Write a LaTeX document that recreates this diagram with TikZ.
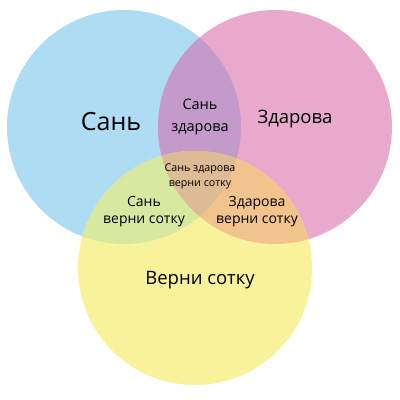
\documentclass[tikz,border=0pt]{standalone}
\usepackage{fontspec}
\setmainfont{Open Sans}
\definecolor{sanblue}{HTML}{AEDCF2}
\definecolor{zdpink}{HTML}{E8A9CC}
\definecolor{vsyellow}{HTML}{F8F29B}
\definecolor{bpmix}{HTML}{C49ACB}
\definecolor{bymix}{HTML}{D7E8A0}
\definecolor{pymix}{HTML}{F0C48C}
\definecolor{allmix}{HTML}{DDBB94}

\begin{document}
\begin{tikzpicture}[x=1pt,y=-1pt,
    txt/.style={align=center, inner sep=0pt, text=black},
    big/.style={txt, font=\fontsize{25}{28}\selectfont},
    mid/.style={txt, font=\fontsize{18.5}{22}\selectfont},
    small/.style={txt, font=\fontsize{14}{17}\selectfont},
    tiny/.style={txt, font=\fontsize{10.7}{15}\selectfont}]
    \useasboundingbox (0,0) rectangle (400,400);
    \coordinate (san) at (124,127);
    \coordinate (zd) at (275,127);
    \coordinate (vs) at (195,268);
    % circles
    \fill [sanblue] (san) circle (117pt);
    \fill [zdpink] (zd) circle (117pt);
    \fill [vsyellow] (vs) circle (117pt);
    % overlaps
    \begin{scope}
        \clip (san) circle (117pt);
        \fill [bpmix] (zd) circle (117pt);
        \fill [bymix] (vs) circle (117pt);
    \end{scope}
    \begin{scope}
        \clip (zd) circle (117pt);
        \fill [pymix] (vs) circle (117pt);
    \end{scope}
    \begin{scope}
        \clip (san) circle (117pt);
        \clip (zd) circle (117pt);
        \fill [allmix] (vs) circle (117pt);
    \end{scope}
    % labels
    \node [big] (a) at (111,122) {Сань};
    \node [mid] (b) at (295,119) {Здарова};
    \node [mid] (c) at (200,280) {Верни сотку};
    \node [small, font=\fontsize{14.5}{22}\selectfont] (ab) at (200,117) {Сань\\здарова};
    \node [small] (ac) at (144,212) {Сань\\верни сотку};
    \node [small] (bc) at (257,212) {Здарова\\верни сотку};
    \node [tiny] (abc) at (200,176) {Сань здарова\\верни сотку};
\end{tikzpicture}
\end{document}
